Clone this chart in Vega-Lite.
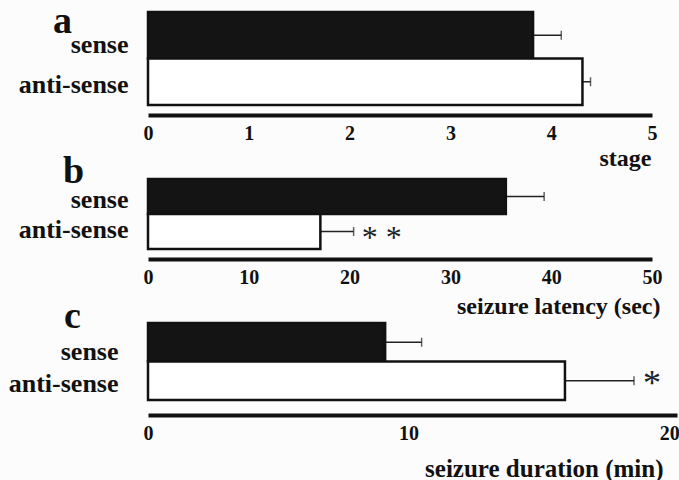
{
  "$schema": "https://vega.github.io/schema/vega-lite/v6.json",
  "background": "#fcfcfc",
  "padding": {"left": 8, "top": 2, "right": 0, "bottom": 0},
  "spacing": 74,
  "bounds": "flush",
  "datasets": {
    "a": [
      {"group": "sense", "mean": 3.82, "upper": 4.10, "sig": ""},
      {"group": "anti-sense", "mean": 4.31, "upper": 4.39, "sig": ""}
    ],
    "b": [
      {"group": "sense", "mean": 35.5, "upper": 39.3, "sig": ""},
      {"group": "anti-sense", "mean": 17.1, "upper": 20.4, "sig": "* *"}
    ],
    "c": [
      {"group": "sense", "mean": 9.1, "upper": 10.5, "sig": ""},
      {"group": "anti-sense", "mean": 16.0, "upper": 18.65, "sig": "*"}
    ]
  },
  "config": {
    "view": {"stroke": null},
    "font": "Liberation Serif",
    "axis": {
      "labelFont": "Liberation Serif",
      "titleFont": "Liberation Serif",
      "labelFontWeight": "bold",
      "titleFontWeight": "bold",
      "labelColor": "#111",
      "titleColor": "#111",
      "grid": false
    },
    "axisY": {
      "domain": false,
      "ticks": false,
      "labelFontSize": 26,
      "labelPadding": 20,
      "labelBaseline": "alphabetic",
      "titleAngle": 0,
      "titleAlign": "center",
      "titleBaseline": "alphabetic",
      "titleFontSize": 38
    },
    "axisX": {
      "domainColor": "#111",
      "domainWidth": 4,
      "ticks": false,
      "labelFontSize": 20,
      "labelFlush": false,
      "labelPadding": 8,
      "format": "d",
      "titleFontSize": 24,
      "titleAlign": "right",
      "titleAnchor": "end"
    }
  },
  "vconcat": [
    {
      "width": 504,
      "height": 93,
      "data": {"name": "a"},
      "encoding": {
        "y": {
          "field": "group", "type": "nominal", "sort": ["sense", "anti-sense"],
          "scale": {"paddingInner": 0, "paddingOuter": 0},
          "axis": {"title": "a", "titleX": -86, "titleY": 20, "labelOffset": {"condition": {"test": "datum.value === 'sense'", "value": 18}, "value": 11}}
        }
      },
      "layer": [
        {
          "mark": {"type": "rule", "color": "#222", "strokeWidth": 1.5},
          "encoding": {
            "x": {"field": "mean", "type": "quantitative"},
            "x2": {"field": "upper"}
          }
        },
        {
          "mark": {"type": "tick", "color": "#222", "size": 9, "thickness": 1.5},
          "encoding": {"x": {"field": "upper", "type": "quantitative"}}
        },
        {
          "mark": {"type": "bar", "stroke": "#111", "strokeWidth": 2.5},
          "encoding": {
            "x": {
              "field": "mean", "type": "quantitative",
              "scale": {"domain": [0, 5], "nice": false},
              "axis": {"values": [0, 1, 2, 3, 4, 5], "offset": 10, "title": "stage", "titleX": 503, "titlePadding": 3}
            },
            "fill": {
              "field": "group", "type": "nominal",
              "scale": {"domain": ["sense", "anti-sense"], "range": ["#141414", "#ffffff"]},
              "legend": null
            }
          }
        }
      ]
    },
    {
      "width": 504,
      "height": 70,
      "data": {"name": "b"},
      "encoding": {
        "y": {
          "field": "group", "type": "nominal", "sort": ["sense", "anti-sense"],
          "scale": {"paddingInner": 0, "paddingOuter": 0},
          "axis": {"title": "b", "titleX": -75, "titleY": 3, "labelOffset": {"condition": {"test": "datum.value === 'sense'", "value": 11}, "value": 6}}
        }
      },
      "layer": [
        {
          "mark": {"type": "rule", "color": "#222", "strokeWidth": 1.5},
          "encoding": {
            "x": {"field": "mean", "type": "quantitative"},
            "x2": {"field": "upper"}
          }
        },
        {
          "mark": {"type": "tick", "color": "#222", "size": 9, "thickness": 1.5},
          "encoding": {"x": {"field": "upper", "type": "quantitative"}}
        },
        {
          "mark": {"type": "bar", "stroke": "#111", "strokeWidth": 2.5},
          "encoding": {
            "x": {
              "field": "mean", "type": "quantitative",
              "scale": {"domain": [0, 50], "nice": false},
              "axis": {"values": [0, 10, 20, 30, 40, 50], "offset": 10, "title": "seizure latency (sec)", "titleX": 512, "titlePadding": 7}
            },
            "fill": {
              "field": "group", "type": "nominal",
              "scale": {"domain": ["sense", "anti-sense"], "range": ["#141414", "#ffffff"]},
              "legend": null
            }
          }
        },
        {
          "mark": {"type": "text", "align": "left", "baseline": "middle", "dx": 8, "dy": 6, "fontSize": 32, "font": "Liberation Serif", "color": "#222"},
          "encoding": {
            "x": {"field": "upper", "type": "quantitative"},
            "text": {"field": "sig"}
          }
        }
      ]
    },
    {
      "width": 529,
      "height": 77,
      "data": {"name": "c"},
      "encoding": {
        "y": {
          "field": "group", "type": "nominal", "sort": ["sense", "anti-sense"],
          "scale": {"paddingInner": 0, "paddingOuter": 0},
          "axis": {"title": "c", "titleX": -76, "titleY": 4, "labelPadding": 30, "labelOffset": {"condition": {"test": "datum.value === 'sense'", "value": 18}, "value": 11}}
        }
      },
      "layer": [
        {
          "mark": {"type": "rule", "color": "#222", "strokeWidth": 1.5},
          "encoding": {
            "x": {"field": "mean", "type": "quantitative"},
            "x2": {"field": "upper"}
          }
        },
        {
          "mark": {"type": "tick", "color": "#222", "size": 9, "thickness": 1.5},
          "encoding": {"x": {"field": "upper", "type": "quantitative"}}
        },
        {
          "mark": {"type": "bar", "stroke": "#111", "strokeWidth": 2.5},
          "encoding": {
            "x": {
              "field": "mean", "type": "quantitative",
              "scale": {"domain": [0, 20.3], "nice": false},
              "axis": {"values": [0, 10, 20], "offset": 15, "title": "seizure duration (min)", "titleX": 515, "titlePadding": 13, "titleFontSize": 25}
            },
            "fill": {
              "field": "group", "type": "nominal",
              "scale": {"domain": ["sense", "anti-sense"], "range": ["#141414", "#ffffff"]},
              "legend": null
            }
          }
        },
        {
          "mark": {"type": "text", "align": "left", "baseline": "middle", "dx": 9, "dy": 3, "fontSize": 36, "font": "Liberation Serif", "color": "#222"},
          "encoding": {
            "x": {"field": "upper", "type": "quantitative"},
            "text": {"field": "sig"}
          }
        }
      ]
    }
  ]
}
